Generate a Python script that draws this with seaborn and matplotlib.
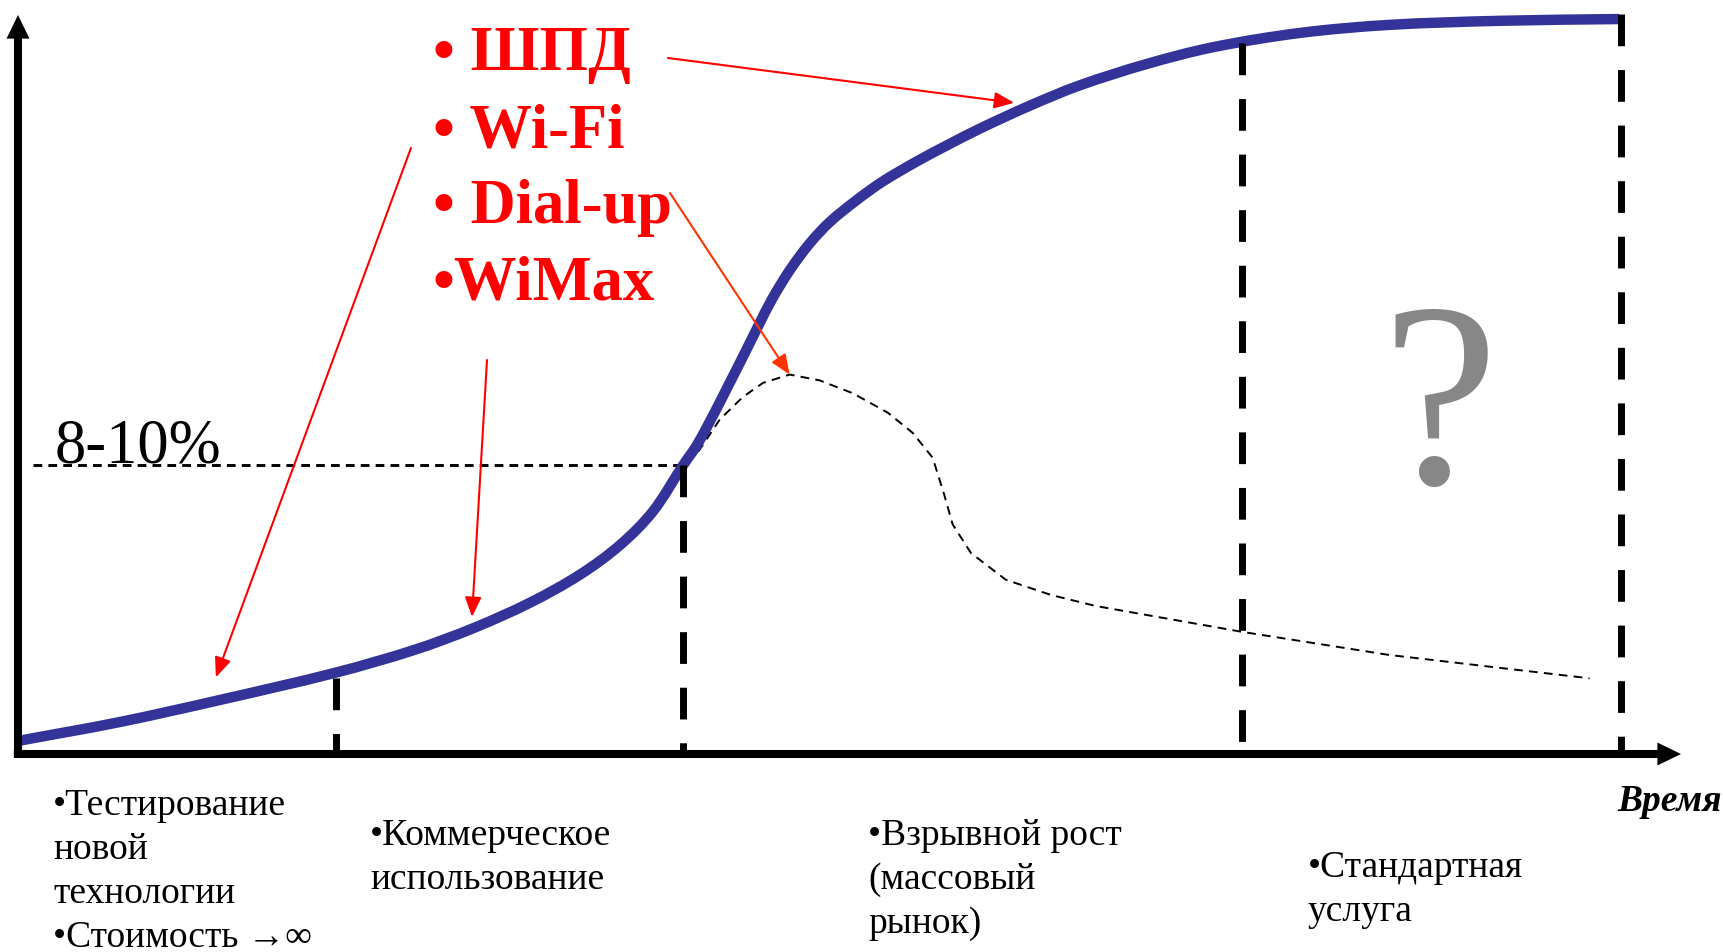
import numpy as np
import pandas as pd
import matplotlib
matplotlib.use("Agg")
import matplotlib.pyplot as plt
from matplotlib.path import Path
from matplotlib.patches import PathPatch
import seaborn as sns

# --- Technology life cycle: market penetration over time -------------------
# time in arbitrary units (0-100), penetration in %
adoption_time = [0.0, 6.07, 11.97, 19.12, 23.87, 27.42, 30.79, 33.79, 36.20,
                 38.18, 40.0, 40.83, 41.79, 42.69, 43.60, 44.44, 45.34, 46.42,
                 47.62, 48.83, 50.45, 52.01, 54.06, 55.86, 57.85, 60.85, 63.86,
                 67.89, 71.86, 77.09, 82.44, 89.12, 96.27]
adoption_pct = [0.0032, 0.0314, 0.1185, 0.350, 0.660, 1.074, 1.714, 2.649, 3.92,
                5.75, 9.0, 10.7, 13.5, 16.7, 20.4, 24.3, 28.8, 33.8,
                38.8, 43.1, 47.8, 52.0, 56.8, 60.8, 65.2, 71.5, 77.4,
                83.9, 89.2, 93.9, 96.6, 98.0, 98.6]

# secondary (dashed) curve: rises with mass adoption, then fades out
margin_time = [40.9, 42.2, 43.6, 44.8, 46.4, 48.2, 50.2, 52.3, 53.8, 55.0, 55.7,
               56.2, 57.3, 59.4, 62.1, 64.8, 73.6, 82.4, 94.5]
margin_level = [10.1, 13.1, 15.5, 17.1, 18.1, 17.4, 15.9, 13.8, 11.8, 9.6, 6.8,
                5.0, 3.55, 2.46, 1.95, 1.62, 0.99, 0.58, 0.29]

# phase boundaries and the height each boundary line reaches
phase_bounds = [19.1, 40.0, 73.6, 96.4]
phase_tops = [0.29, 9.0, 90.6, 100.5]

threshold_pct = 9.0
threshold_label = "8-10%"

technologies = ["• ШПД", "• Wi-Fi", "• Dial-up", "•WiMax"]
# where each technology's arrow points (time, %)
tech_target_time = [59.9, 11.9, 46.4, 27.3]
tech_target_pct = [72.3, 0.30, 18.1, 1.33]
tech_arrow_colors = ["#ff0000", "#ff0000", "#ff3300", "#ff0000"]

phase_labels = [
    ["•Тестирование", "новой", "технологии", "•Стоимость →∞"],
    ["•Коммерческое", "использование"],
    ["•Взрывной рост", "(массовый", "рынок)"],
    ["•Стандартная", "услуга"],
]
time_label = "Время"
unknown_mark = "?"

# --- style -------------------------------------------------------------------
sns.set_theme(style="white")
SERIF = ["Liberation Serif", "DejaVu Serif"]
plt.rcParams["font.family"] = SERIF
plt.rcParams["text.color"] = "black"

W, H = 1724, 952
fig = plt.figure(figsize=(W / 100, H / 100), dpi=100)
fig.patch.set_facecolor("white")


def fpos(px, py):
    """pixel position (from top-left) -> figure fraction"""
    return px / W, 1 - py / H


# plotting area: origin at the corner of the two axis arrows
ox, oy, tx_, ty_ = 18, 754, 1681, 15
ax = fig.add_axes([ox / W, 1 - oy / H, (tx_ - ox) / W, (oy - ty_) / H])

EXP = 0.39


def fwd(v):
    v = np.asarray(v, dtype=float)
    return np.sign(v) * np.abs(v / 100.0) ** EXP


def inv(u):
    u = np.asarray(u, dtype=float)
    return np.sign(u) * 100.0 * np.abs(u) ** (1.0 / EXP)


def smooth_curve(ax, xs, ys, **kw):
    """Draw a smooth (cubic Bezier) curve passing through the given data points."""
    pts = ax.transData.transform(np.column_stack([xs, ys]))
    seg = np.hypot(*np.diff(pts, axis=0).T)
    d = np.r_[0.0, np.cumsum(seg)]
    tang = np.empty_like(pts)
    tang[1:-1] = (pts[2:] - pts[:-2]) / (d[2:] - d[:-2])[:, None]
    tang[0] = (pts[1] - pts[0]) / seg[0]
    tang[-1] = (pts[-1] - pts[-2]) / seg[-1]
    verts, codes = [pts[0]], [Path.MOVETO]
    for i in range(len(pts) - 1):
        h = seg[i] / 3.0
        verts += [pts[i] + tang[i] * h, pts[i + 1] - tang[i + 1] * h, pts[i + 1]]
        codes += [Path.CURVE4] * 3
    verts = ax.transData.inverted().transform(np.array(verts))
    patch = PathPatch(Path(verts, codes), fill=False, transform=ax.transData, **kw)
    ax.add_patch(patch)
    return patch


margin_df = pd.DataFrame({"time": margin_time, "level": margin_level})
sns.lineplot(data=margin_df, x="time", y="level", ax=ax, sort=False,
             color="black", linewidth=1.4, linestyle=(0, (4.5, 3.2)),
             clip_on=False, zorder=2)

ax.set_yscale("function", functions=(fwd, inv))
ax.set_xlim(0, 100)
ax.set_ylim(0, 100)
ax.axis("off")

# main adoption S-curve
smooth_curve(ax, adoption_time, adoption_pct, edgecolor="#333399",
             linewidth=7.5, capstyle="butt", joinstyle="round",
             clip_on=False, zorder=3)

# phase boundaries (drawn top-down so the dash pattern starts at the curve)
for b, top in zip(phase_bounds, phase_tops):
    ax.plot([b, b], [top, 0], color="black", linewidth=5,
            linestyle=(0, (4.57, 3.43)), dash_capstyle="butt",
            clip_on=False, zorder=4)

# penetration threshold
ax.plot([0.9, phase_bounds[1]], [threshold_pct, threshold_pct], color="black",
        linewidth=2.1, linestyle=(0, (3.0, 2.1)), clip_on=False, zorder=2)
ax.annotate(threshold_label, xy=(2.2, threshold_pct), xytext=(0, 2.2),
            textcoords="offset points", fontsize=45, ha="left", va="baseline",
            annotation_clip=False)

# axis arrows
axis_arrow = dict(arrowstyle="simple,head_length=17,head_width=16.5,tail_width=5.8",
                  mutation_scale=1, fc="black", ec="none", lw=0,
                  shrinkA=0, shrinkB=0, clip_on=False)
ax.annotate("", xy=(100, 0), xytext=(-0.25, 0), arrowprops=axis_arrow,
            annotation_clip=False)
ax.annotate("", xy=(0, 100), xytext=(0, 0), arrowprops=axis_arrow,
            annotation_clip=False)

# technology list with pointers
tech_baselines = [70, 147, 223, 300]
tech_arrow_starts = [(668, 58), (411, 148), (670, 193), (487, 360)]
for name, base, start, t, p, col in zip(technologies, tech_baselines,
                                        tech_arrow_starts, tech_target_time,
                                        tech_target_pct, tech_arrow_colors):
    fig.text(*fpos(433, base), name, color="#ff0000", fontsize=45,
             fontweight="bold", ha="left", va="baseline")
    ax.annotate("", xy=(t, p), xycoords="data",
                xytext=fpos(*start), textcoords="figure fraction",
                arrowprops=dict(arrowstyle="-|>,head_length=12,head_width=5",
                                mutation_scale=1, color=col, lw=1.5,
                                shrinkA=0, shrinkB=0, clip_on=False),
                annotation_clip=False, zorder=5)

# unknown future
fig.text(*fpos(1440, 483), unknown_mark, color="#878787", fontsize=189,
         ha="center", va="baseline")

# phase descriptions under the time axis
label_lefts = [53, 370, 868, 1308]
label_first_base = [815, 845, 845, 877]
line_step = 44
for lines, lx, ly in zip(phase_labels, label_lefts, label_first_base):
    for k, line in enumerate(lines):
        fig.text(*fpos(lx, ly + k * line_step), line, fontsize=27,
                 ha="left", va="baseline")

fig.text(*fpos(1722, 811), time_label, fontsize=27, fontweight="bold",
         fontstyle="italic", ha="right", va="baseline")

fig.savefig("out.png", dpi=100, facecolor="white")
